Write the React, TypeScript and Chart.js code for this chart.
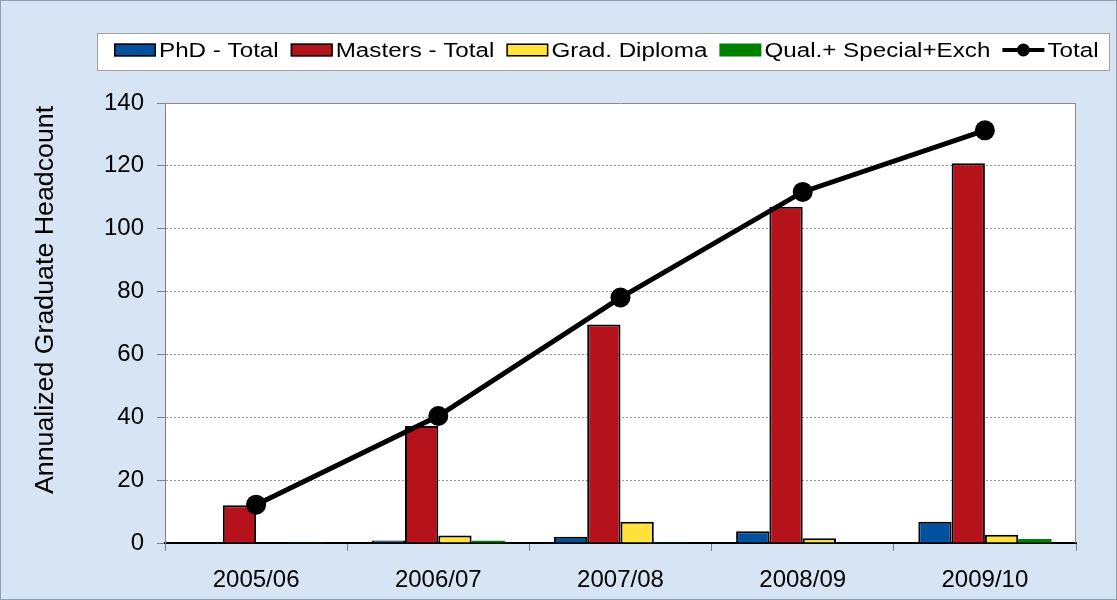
import React, { useEffect, useRef } from 'react';
import { Chart, registerables } from 'chart.js';

Chart.register(...registerables);

const FONT = "'Liberation Sans', Arial, sans-serif";

const categories = ['2005/06', '2006/07', '2007/08', '2008/09', '2009/10'];
const phdTotal = [0, 0.8, 2, 3.7, 6.8];
const mastersTotal = [12, 37.2, 69.5, 107, 120.8];
const gradDiploma = [0, 2.4, 6.8, 1.5, 2.6];
const qualSpecialExch = [0.2, 0.7, 0.2, 0, 1.3];
const total = [12.2, 40.4, 78.1, 111.7, 131.3];

const seriesLabels = ['PhD - Total', 'Masters - Total', 'Grad. Diploma', 'Qual.+ Special+Exch', 'Total'];
const seriesColors = ['#00519E', '#B5121B', '#FFE33B', '#008000', '#000000'];
const yTitle = 'Annualized Graduate Headcount';
const yMin = 0;
const yMax = 140;
const yStep = 20;

const decorPlugin = {
  id: 'decor',
  beforeDraw(chart: any) {
    const { ctx, chartArea, width, height } = chart;
    ctx.save();
    ctx.fillStyle = '#d7e4f3';
    ctx.fillRect(0, 0, width, height);
    ctx.strokeStyle = '#8f9db3';
    ctx.lineWidth = 1;
    ctx.strokeRect(0.5, 0.5, width - 1, height - 1);
    ctx.fillStyle = '#ffffff';
    ctx.fillRect(chartArea.left, chartArea.top, chartArea.right - chartArea.left, chartArea.bottom - chartArea.top);
    ctx.restore();
  },
  beforeDatasetsDraw(chart: any) {
    const { ctx, chartArea } = chart;
    ctx.save();
    ctx.strokeStyle = '#8c8c8c';
    ctx.lineWidth = 1;
    ctx.beginPath();
    ctx.moveTo(chartArea.left, Math.round(chartArea.top) + 0.5);
    ctx.lineTo(chartArea.right, Math.round(chartArea.top) + 0.5);
    ctx.moveTo(Math.round(chartArea.right) - 0.5, chartArea.top);
    ctx.lineTo(Math.round(chartArea.right) - 0.5, chartArea.bottom);
    ctx.stroke();
    ctx.restore();
  },
  afterDraw(chart: any) {
    const { ctx } = chart;
    ctx.save();
    // Legend box
    const boxL = 97, boxT = 33, boxR = 1110, boxB = 71;
    ctx.fillStyle = '#ffffff';
    ctx.fillRect(boxL, boxT, boxR - boxL, boxB - boxT);
    ctx.strokeStyle = '#a0a0a0';
    ctx.lineWidth = 1;
    ctx.strokeRect(boxL + 0.5, boxT + 0.5, boxR - boxL - 1, boxB - boxT - 1);

    const fontSize = 20;
    const stretch = 1.21;
    ctx.font = `${fontSize}px ${FONT}`;
    ctx.textBaseline = 'middle';
    ctx.textAlign = 'left';
    const cy = 50;
    const swW = 42, swH = 13;
    let x = 114;
    chart.data.datasets.forEach((ds: any) => {
      if (ds.type === 'line') {
        ctx.strokeStyle = '#000';
        ctx.lineWidth = 4;
        ctx.beginPath();
        ctx.moveTo(x, cy);
        ctx.lineTo(x + swW, cy);
        ctx.stroke();
        ctx.fillStyle = '#000';
        ctx.beginPath();
        ctx.arc(x + swW / 2, cy, 6.5, 0, Math.PI * 2);
        ctx.fill();
      } else {
        ctx.fillStyle = ds.backgroundColor;
        ctx.fillRect(x, cy - swH / 2, swW, swH);
        if (ds.borderWidth > 0) {
          ctx.strokeStyle = '#000';
          ctx.lineWidth = 1.5;
          ctx.strokeRect(x + 0.75, cy - swH / 2 + 0.75, swW - 1.5, swH - 1.5);
        }
      }
      const tx = x + swW + 3;
      ctx.fillStyle = '#000';
      ctx.save();
      ctx.translate(tx, cy + 1);
      ctx.scale(stretch, 1);
      ctx.fillText(ds.label, 0, 0);
      ctx.restore();
      const tw = ctx.measureText(ds.label).width * stretch;
      x = tx + tw + 12;
    });

    // Y axis title
    ctx.save();
    ctx.translate(53, 300);
    ctx.rotate(-Math.PI / 2);
    ctx.scale(1.07, 1);
    ctx.font = `25px ${FONT}`;
    ctx.textAlign = 'center';
    ctx.textBaseline = 'alphabetic';
    ctx.fillStyle = '#000';
    ctx.fillText(yTitle, 0, 0);
    ctx.restore();

    ctx.restore();
  },
};

export default function App() {
  const canvasRef = useRef<HTMLCanvasElement | null>(null);

  useEffect(() => {
    if (!canvasRef.current) return;
    Chart.defaults.font.family = FONT;
    const barBase = {
      type: 'bar' as const,
      order: 1,
      borderColor: '#000000',
      borderWidth: 2,
      categoryPercentage: 0.731,
      barPercentage: 1,
    };
    const chart = new Chart(canvasRef.current, {
      type: 'bar',
      data: {
        labels: categories,
        datasets: [
          { ...barBase, label: seriesLabels[0], data: phdTotal, backgroundColor: seriesColors[0] },
          { ...barBase, label: seriesLabels[1], data: mastersTotal, backgroundColor: seriesColors[1] },
          { ...barBase, label: seriesLabels[2], data: gradDiploma, backgroundColor: seriesColors[2] },
          { ...barBase, label: seriesLabels[3], data: qualSpecialExch, backgroundColor: seriesColors[3], borderWidth: 0 },
          {
            type: 'line' as const,
            order: 0,
            label: seriesLabels[4],
            data: total,
            borderColor: seriesColors[4],
            backgroundColor: seriesColors[4],
            borderWidth: 5,
            pointRadius: 10,
            pointBackgroundColor: seriesColors[4],
            pointBorderWidth: 0,
            tension: 0,
          } as any,
        ],
      },
      options: {
        animation: false,
        responsive: false,
        maintainAspectRatio: false,
        devicePixelRatio: 1,
        layout: { padding: { top: 103, left: 0, right: 41, bottom: 0 } },
        plugins: {
          legend: { display: false },
          tooltip: { enabled: false },
        },
        scales: {
          x: {
            grid: {
              display: true,
              drawOnChartArea: false,
              drawTicks: true,
              tickLength: 8,
              color: '#808080',
              tickColor: '#808080',
              offset: true,
            },
            border: { display: true, color: '#000000', width: 2 },
            ticks: {
              font: { size: 24, family: FONT },
              color: '#000000',
              padding: 15,
              maxRotation: 0,
              autoSkip: false,
            },
            afterFit: (s: any) => {
              s.height = 57;
            },
          },
          y: {
            min: yMin,
            max: yMax,
            ticks: {
              stepSize: yStep,
              font: { size: 24, family: FONT },
              color: '#000000',
              padding: 13,
            },
            grid: {
              color: (c: any) => (c.tick && c.tick.value === 0 ? 'rgba(0,0,0,0)' : '#9a9a9a'),
              tickColor: '#808080',
              tickLength: 8,
              lineWidth: 1,
            },
            border: { display: true, color: '#808080', width: 1, dash: [2, 2] },
            afterFit: (s: any) => {
              s.width = 165;
            },
          },
        },
      },
      plugins: [decorPlugin],
    } as any);
    return () => chart.destroy();
  }, []);

  return (
    <div style={{ position: 'fixed', left: 0, top: 0, width: 1117, height: 600 }}>
      <canvas ref={canvasRef} width={1117} height={600} style={{ width: 1117, height: 600, display: 'block' }} />
    </div>
  );
}
